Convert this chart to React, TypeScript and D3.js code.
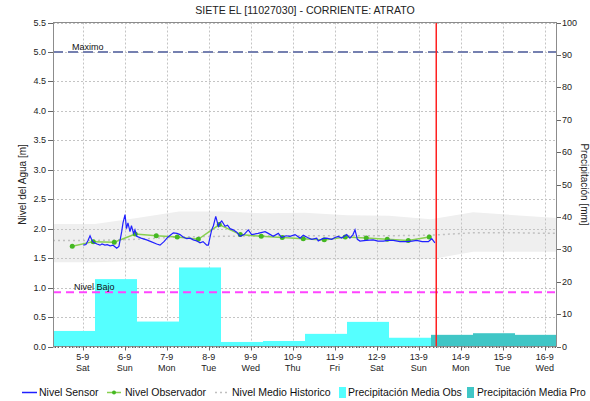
import * as d3 from 'd3';

// Nivel Sensor [m]
const sensor: [string, number][] = [
  ['2020-09-05 00:20', 1.72], ['2020-09-05 01:50', 1.73], ['2020-09-05 03:00', 1.8], ['2020-09-05 04:10', 1.88],
  ['2020-09-05 05:00', 1.82], ['2020-09-05 06:00', 1.77], ['2020-09-05 08:10', 1.74], ['2020-09-05 09:50', 1.72],
  ['2020-09-05 11:00', 1.74], ['2020-09-05 12:40', 1.72], ['2020-09-05 14:00', 1.73], ['2020-09-05 15:40', 1.71],
  ['2020-09-05 17:20', 1.72], ['2020-09-05 19:25', 1.67], ['2020-09-05 20:40', 1.7], ['2020-09-05 22:15', 1.95],
  ['2020-09-05 23:00', 2.1], ['2020-09-06 00:10', 2.24], ['2020-09-06 01:00', 2.0], ['2020-09-06 01:50', 2.1],
  ['2020-09-06 03:00', 1.95], ['2020-09-06 03:50', 2.05], ['2020-09-06 05:00', 1.92], ['2020-09-06 05:50', 1.98],
  ['2020-09-06 06:50', 1.87], ['2020-09-06 09:20', 1.84], ['2020-09-06 12:30', 1.81], ['2020-09-06 15:00', 1.78],
  ['2020-09-06 18:15', 1.74], ['2020-09-06 20:10', 1.72], ['2020-09-06 22:25', 1.78], ['2020-09-07 00:45', 1.86],
  ['2020-09-07 03:45', 1.93], ['2020-09-07 05:50', 1.92], ['2020-09-07 07:35', 1.9], ['2020-09-07 09:20', 1.86],
  ['2020-09-07 11:25', 1.83], ['2020-09-07 13:20', 1.84], ['2020-09-07 15:10', 1.81], ['2020-09-07 17:15', 1.79],
  ['2020-09-07 19:00', 1.76], ['2020-09-07 20:45', 1.78], ['2020-09-07 22:50', 1.72], ['2020-09-07 23:45', 1.72],
  ['2020-09-08 01:40', 1.98], ['2020-09-08 02:40', 2.05], ['2020-09-08 04:00', 2.21], ['2020-09-08 05:30', 2.04],
  ['2020-09-08 06:25', 2.1], ['2020-09-08 07:25', 2.13], ['2020-09-08 09:20', 2.04], ['2020-09-08 10:45', 2.06],
  ['2020-09-08 12:10', 2.0], ['2020-09-08 13:55', 1.98], ['2020-09-08 16:00', 1.94], ['2020-09-08 17:55', 1.87],
  ['2020-09-08 20:10', 1.9], ['2020-09-08 22:35', 1.98], ['2020-09-09 00:30', 1.9], ['2020-09-09 04:10', 1.92],
  ['2020-09-09 08:10', 1.95], ['2020-09-09 10:00', 1.92], ['2020-09-09 12:50', 1.87], ['2020-09-09 15:45', 1.92],
  ['2020-09-09 17:40', 1.85], ['2020-09-09 20:10', 1.88], ['2020-09-09 22:25', 1.87], ['2020-09-10 01:20', 1.9],
  ['2020-09-10 04:10', 1.84], ['2020-09-10 06:00', 1.89], ['2020-09-10 08:25', 1.85], ['2020-09-10 10:50', 1.82],
  ['2020-09-10 13:40', 1.84], ['2020-09-10 14:35', 1.79], ['2020-09-10 17:00', 1.83], ['2020-09-10 19:25', 1.84],
  ['2020-09-10 22:15', 1.82], ['2020-09-11 00:10', 1.85], ['2020-09-11 02:00', 1.87], ['2020-09-11 04:00', 1.84],
  ['2020-09-11 06:50', 1.9], ['2020-09-11 08:40', 1.84], ['2020-09-11 10:25', 1.9], ['2020-09-11 11:35', 1.98],
  ['2020-09-11 12:55', 1.82], ['2020-09-11 14:25', 1.79], ['2020-09-11 17:55', 1.8], ['2020-09-11 22:00', 1.81],
  ['2020-09-12 00:40', 1.79], ['2020-09-12 03:45', 1.79], ['2020-09-12 06:25', 1.8], ['2020-09-12 09:30', 1.8],
  ['2020-09-12 13:15', 1.78], ['2020-09-12 17:05', 1.78], ['2020-09-12 20:10', 1.79], ['2020-09-12 22:50', 1.8],
  ['2020-09-13 01:55', 1.78], ['2020-09-13 05:30', 1.78], ['2020-09-13 07:25', 1.83], ['2020-09-13 09:15', 1.76],
];

// Nivel Observador [m]
const observer: [string, number][] = [
  ['2020-09-04 18:00', 1.7], ['2020-09-05 06:00', 1.78], ['2020-09-05 18:00', 1.77], ['2020-09-06 06:00', 1.91],
  ['2020-09-06 18:00', 1.88], ['2020-09-07 06:00', 1.86], ['2020-09-07 18:00', 1.82], ['2020-09-08 06:00', 2.07],
  ['2020-09-08 18:00', 1.9], ['2020-09-09 06:00', 1.87], ['2020-09-09 18:00', 1.85], ['2020-09-10 06:00', 1.83],
  ['2020-09-10 18:00', 1.81], ['2020-09-11 06:00', 1.86], ['2020-09-11 18:00', 1.84], ['2020-09-12 06:00', 1.82],
  ['2020-09-12 18:00', 1.8], ['2020-09-13 06:00', 1.86],
];

// historico: fecha, min, medio, max
const histDates = ['2020-09-04 07:00', '2020-09-05 07:00', '2020-09-06 07:00', '2020-09-07 07:00', '2020-09-08 07:00',
  '2020-09-09 07:00', '2020-09-10 07:00', '2020-09-11 07:00', '2020-09-12 07:00', '2020-09-13 07:00',
  '2020-09-14 07:00', '2020-09-15 07:00', '2020-09-16 07:00'];
const histMin = [1.43, 1.43, 1.45, 1.45, 1.46, 1.46, 1.46, 1.47, 1.47, 1.48, 1.61, 1.61, 1.61];
const histMean = [1.8, 1.8, 1.82, 1.86, 1.87, 1.88, 1.88, 1.88, 1.88, 1.89, 1.93, 1.93, 1.92];
const histMax = [2.08, 2.08, 2.18, 2.29, 2.29, 2.26, 2.27, 2.23, 2.22, 2.16, 2.28, 2.23, 2.18];

// precipitacion diaria [mm] (dia hidrologico 07:00 - 07:00)
const precipObsDays = ['2020-09-04', '2020-09-05', '2020-09-06', '2020-09-07', '2020-09-08', '2020-09-09', '2020-09-10', '2020-09-11', '2020-09-12'];
const precipObs = [4.8, 20.8, 7.7, 24.4, 1.4, 1.7, 3.9, 7.6, 2.7];
const precipProDays = ['2020-09-13', '2020-09-14', '2020-09-15'];
const precipPro = [3.6, 4.1, 3.6];

const nivelMaximo = 5.0;
const nivelBajo = 0.92;
const ahora = '2020-09-13 10:00';

const levelTicks = d3.range(0, 5.51, 0.5);
const precipTicks = d3.range(0, 101, 10);

const parse = d3.timeParse('%Y-%m-%d %H:%M');
const font = '"Liberation Sans", Arial, sans-serif';

export default function App() {
  const width = 590;
  const height = 401;
  const left = 53, right = 557, top = 22.5, bottom = 346.5;

  const x = d3.scaleTime()
    .domain([parse('2020-09-04 07:00')!, parse('2020-09-16 07:00')!])
    .range([left, right]);
  const yL = d3.scaleLinear().domain([0, 5.5]).range([bottom, top]);
  const yR = d3.scaleLinear().domain([0, 100]).range([bottom, top]);

  const days = d3.timeDay.range(d3.timeDay.ceil(x.domain()[0]), x.domain()[1]);
  const hours = d3.timeHour.every(2)!.range(x.domain()[0], x.domain()[1]);

  const band = d3.area<number>()
    .x(i => x(parse(histDates[i])!))
    .y0(i => yL(histMin[i]))
    .y1(i => yL(histMax[i]));
  const meanLine = d3.line<number>()
    .x(i => x(parse(histDates[i])!))
    .y(i => yL(histMean[i]));
  const line = d3.line<[string, number]>()
    .x(d => x(parse(d[0])!))
    .y(d => yL(d[1]));

  const bar = (day: string, v: number) => {
    const x0 = x(parse(day + ' 07:00')!);
    const x1 = x(d3.timeDay.offset(parse(day + ' 07:00')!, 1));
    return { x: x0, w: x1 - x0, y: yR(v), h: bottom - yR(v) };
  };

  const idx = d3.range(histDates.length);
  const fmtDay = d3.timeFormat('%-d-%-m');
  const fmtDow = d3.timeFormat('%a');

  return (
    <svg width={width} height={height} style={{ position: 'absolute', left: 0, top: 0, background: '#fff' }}
      fontFamily={font}>
      <text x={305} y={14} textAnchor="middle" fontSize={10.6} fill="#222">
        SIETE EL [11027030] - CORRIENTE: ATRATO
      </text>

      {/* banda historica */}
      <path d={band(idx)!} fill="#efefef" />

      {/* grilla */}
      {levelTicks.map(t => (
        <line key={'h' + t} x1={left} x2={right} y1={Math.round(yL(t)) + 0.5} y2={Math.round(yL(t)) + 0.5}
          stroke="#c4c4c4" strokeDasharray="2,2" />
      ))}
      {days.map(d => (
        <line key={'v' + d.getTime()} x1={Math.round(x(d)) + 0.5} x2={Math.round(x(d)) + 0.5} y1={top} y2={bottom}
          stroke="#c4c4c4" strokeDasharray="2,2" />
      ))}

      {/* precipitacion */}
      {precipObsDays.map((d, i) => {
        const b = bar(d, precipObs[i]);
        return <rect key={'o' + d} x={b.x} y={b.y} width={b.w} height={b.h} fill="#55ffff" />;
      })}
      {precipProDays.map((d, i) => {
        const b = bar(d, precipPro[i]);
        return <rect key={'p' + d} x={b.x} y={b.y} width={b.w} height={b.h} fill="#40c6c6" />;
      })}

      <path d={meanLine(idx)!} fill="none" stroke="#c0c0c0" strokeWidth={1.5} strokeDasharray="2,3" />

      {/* umbrales */}
      <line x1={left} x2={right} y1={yL(nivelMaximo)} y2={yL(nivelMaximo)} stroke="#7580b0" strokeWidth={2}
        strokeDasharray="10,5" />
      <text x={72} y={yL(nivelMaximo) - 2} fontSize={9} fill="#111">Maximo</text>
      <line x1={left} x2={right} y1={yL(nivelBajo)} y2={yL(nivelBajo)} stroke="#ff44ff" strokeWidth={2}
        strokeDasharray="8,5" />
      <text x={74} y={yL(nivelBajo) - 2} fontSize={9} fill="#111">Nivel Bajo</text>

      {/* series */}
      <path d={line(observer)!} fill="none" stroke="#88d050" strokeWidth={1.5} />
      {observer.map(d => (
        <circle key={'c' + d[0]} cx={x(parse(d[0])!)} cy={yL(d[1])} r={2.5} fill="#44b822" />
      ))}
      <path d={line(sensor)!} fill="none" stroke="#2020ff" strokeWidth={1.2} />

      <line x1={x(parse(ahora)!)} x2={x(parse(ahora)!)} y1={top} y2={bottom} stroke="#ff2020" strokeWidth={1.5} />

      {/* marco y ejes */}
      <rect x={left + 0.5} y={top} width={right - left - 1} height={bottom - top} fill="none" stroke="#8c8c8c" />
      {hours.map(h => (
        <line key={'m' + h.getTime()} x1={Math.round(x(h)) + 0.5} x2={Math.round(x(h)) + 0.5} y1={bottom} y2={bottom + 1.5}
          stroke="#666" />
      ))}
      {levelTicks.map(t => (
        <g key={'l' + t}>
          <line x1={left - 5} x2={left} y1={Math.round(yL(t)) + 0.5} y2={Math.round(yL(t)) + 0.5} stroke="#666" />
          <text x={left - 7} y={yL(t) + 3} textAnchor="end" fontSize={9} fill="#222">{t.toFixed(1)}</text>
        </g>
      ))}
      {precipTicks.map(t => (
        <g key={'r' + t}>
          <line x1={right} x2={right + 4} y1={Math.round(yR(t)) + 0.5} y2={Math.round(yR(t)) + 0.5} stroke="#666" />
          <text x={right + 5} y={yR(t) + 3} fontSize={9} fill="#222">{t}</text>
        </g>
      ))}
      {days.map(d => (
        <g key={'x' + d.getTime()}>
          <line x1={Math.round(x(d)) + 0.5} x2={Math.round(x(d)) + 0.5} y1={bottom} y2={bottom + 4} stroke="#666" />
          <text x={x(d)} y={360} textAnchor="middle" fontSize={9} fill="#222">{fmtDay(d)}</text>
          <text x={x(d)} y={371} textAnchor="middle" fontSize={9} fill="#222">{fmtDow(d)}</text>
        </g>
      ))}

      <text transform={`translate(26,${(top + bottom) / 2}) rotate(-90)`} textAnchor="middle" fontSize={10} fill="#222">
        Nivel del Agua [m]
      </text>
      <text transform={`translate(581,${(top + bottom) / 2}) rotate(90)`} textAnchor="middle" fontSize={10} fill="#222">
        Precipitación [mm]
      </text>

      {/* leyenda */}
      <g fontSize={10.5} fill="#111">
        <line x1={22} x2={37} y1={392.5} y2={392.5} stroke="#2020ff" strokeWidth={1.5} />
        <text x={39} y={396}>Nivel Sensor</text>
        <line x1={107} x2={121} y1={392.5} y2={392.5} stroke="#88d050" strokeWidth={1.5} />
        <circle cx={114} cy={392.5} r={2} fill="#44b822" />
        <text x={125} y={396}>Nivel Observador</text>
        <line x1={215} x2={229} y1={392.5} y2={392.5} stroke="#c0c0c0" strokeWidth={1.5} strokeDasharray="2,3" />
        <text x={232} y={396}>Nivel Medio Historico</text>
        <rect x={339} y={387} width={7} height={11} fill="#55ffff" />
        <text x={348} y={396}>Precipitación Media Obs</text>
        <rect x={467} y={387} width={7} height={11} fill="#40c6c6" />
        <text x={477} y={396} fontSize={10.3}>Precipitación Media Pro</text>
      </g>
    </svg>
  );
}
